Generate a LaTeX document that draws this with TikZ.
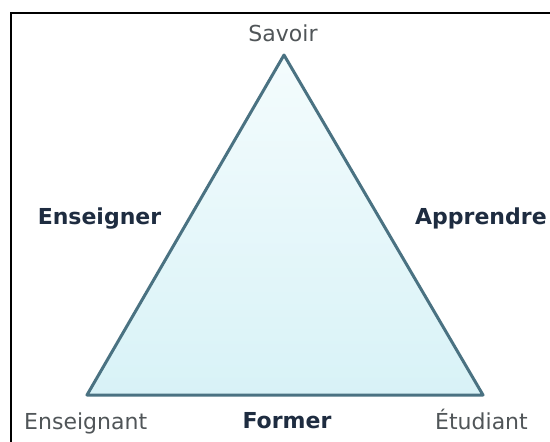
\documentclass[tikz,border=0pt]{standalone}
\usepackage{fontspec}
\setmainfont{DejaVu Sans}
\definecolor{edgecol}{HTML}{4A7282}
\definecolor{filltop}{HTML}{F4FCFD}
\definecolor{fillbot}{HTML}{D8F2F7}
\definecolor{boldtxt}{HTML}{1E2C40}
\definecolor{regtxt}{HTML}{505558}
\tikzset{
  frameline/.style={line width=2pt, black},
  triedge/.style={draw=edgecol, line width=3pt, line join=round},
  verb/.style={font=\fontsize{22}{26}\selectfont\bfseries, text=boldtxt, inner sep=0pt},
  actor/.style={font=\fontsize{22}{26}\selectfont, text=regtxt, inner sep=0pt}
}
\begin{document}
\begin{tikzpicture}[x=1pt,y=-1pt]
\useasboundingbox (0,0) rectangle (550,442);
\fill[white] (0,0) rectangle (550,442);
\draw[frameline] (11,442) -- (11,12.5) -- (550,12.5);
\coordinate (S) at (284,55);
\coordinate (E) at (87,395);
\coordinate (T) at (483,395);
\shade[top color=filltop, bottom color=fillbot] (S) -- (E) -- (T) -- cycle;
\draw[triedge] (S) -- (E) -- (T) -- cycle;
\node[actor, anchor=base] (savoir) at (283,41) {Savoir};
\node[verb, anchor=base] (enseigner) at (99.5,224) {Enseigner};
\node[verb, anchor=base west] (apprendre) at (415,224) {Apprendre};
\node[verb, anchor=base] (former) at (287,428) {Former};
\node[actor, anchor=base west] (enseignant) at (24,429) {Enseignant};
\node[actor, anchor=base west] (etudiant) at (435,429) {Étudiant};
\end{tikzpicture}
\end{document}
